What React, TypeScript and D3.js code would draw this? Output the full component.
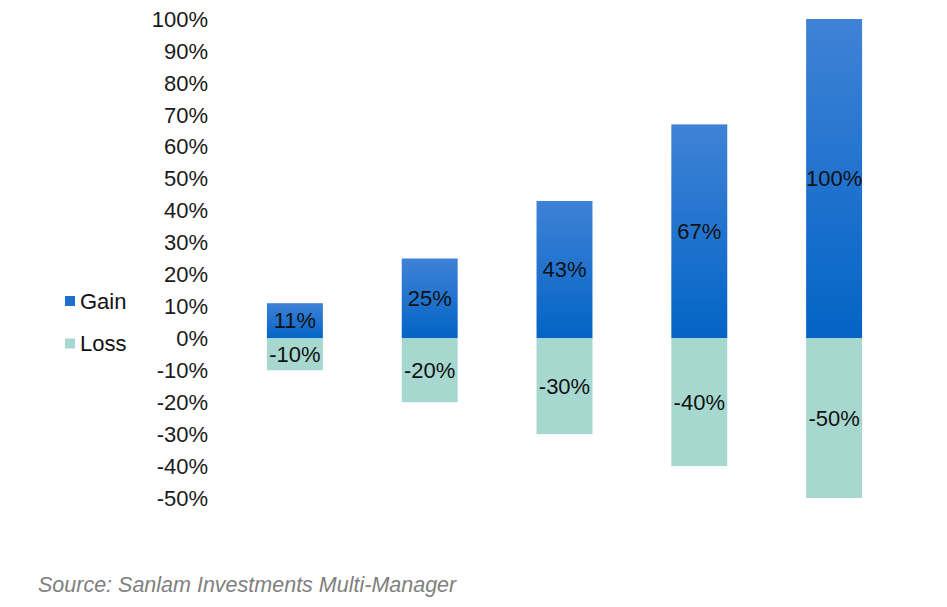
import React from "react";
import * as d3 from "d3";

const categories = ["A", "B", "C", "D", "E"];
const gainValues = [11, 25, 43, 67, 100];
const lossValues = [-10, -20, -30, -40, -50];
const tickValues = [100, 90, 80, 70, 60, 50, 40, 30, 20, 10, 0, -10, -20, -30, -40, -50];
const legendItems = [
  { key: "Gain", color: "#1f6fcf" },
  { key: "Loss", color: "#a6d8d0" },
];
const sourceText = "Source: Sanlam Investments Multi-Manager";

const W = 947;
const H = 607;
const FONT = "'Liberation Sans', Arial, sans-serif";

export default function App() {
  const y = d3.scaleLinear().domain([-50, 100]).range([498, 19]);
  const x = d3
    .scaleBand<string>()
    .domain(categories)
    .range([227.5, 901.5])
    .paddingInner(0.585)
    .paddingOuter(0.2925);
  const bw = x.bandwidth();

  return (
    <svg
      width={W}
      height={H}
      style={{ position: "absolute", left: 0, top: 0, background: "#fff" }}
    >
      <defs>
        <linearGradient id="gainGrad" x1="0" y1="0" x2="0" y2="1">
          <stop offset="0%" stopColor="#3f82d6" />
          <stop offset="100%" stopColor="#0364c6" />
        </linearGradient>
      </defs>
      <rect x={0} y={0} width={W} height={H} fill="#fff" />

      {/* y axis tick labels */}
      {tickValues.map((t) => (
        <text
          key={t}
          x={208}
          y={y(t)}
          dy="0.35em"
          textAnchor="end"
          fontFamily={FONT}
          fontSize={22}
          fill="#1a1a1a"
        >
          {`${t}%`}
        </text>
      ))}

      {/* bars */}
      {categories.map((c, i) => {
        const x0 = x(c) as number;
        const g = gainValues[i];
        const l = lossValues[i];
        return (
          <g key={c}>
            <rect
              x={x0}
              y={y(g)}
              width={bw}
              height={y(0) - y(g)}
              fill="url(#gainGrad)"
            />
            <rect
              x={x0}
              y={y(0)}
              width={bw}
              height={y(l) - y(0)}
              fill="#a6d8d0"
            />
            <text
              x={x0 + bw / 2}
              y={(y(g) + y(0)) / 2}
              dy="0.35em"
              textAnchor="middle"
              fontFamily={FONT}
              fontSize={22}
              fill="#111"
            >
              {`${g}%`}
            </text>
            <text
              x={x0 + bw / 2}
              y={(y(l) + y(0)) / 2}
              dy="0.35em"
              textAnchor="middle"
              fontFamily={FONT}
              fontSize={22}
              fill="#111"
            >
              {`${l}%`}
            </text>
          </g>
        );
      })}

      {/* legend */}
      {legendItems.map((d, i) => (
        <g key={d.key} transform={`translate(65, ${301 + i * 42.5})`}>
          <rect x={0} y={-5} width={10} height={10} fill={d.color} />
          <text
            x={15}
            y={0}
            dy="0.35em"
            fontFamily={FONT}
            fontSize={22}
            fill="#111"
          >
            {d.key}
          </text>
        </g>
      ))}

      {/* source */}
      <text
        x={38}
        y={592}
        fontFamily={FONT}
        fontSize={21.5}
        fontStyle="italic"
        fill="#808080"
      >
        {sourceText}
      </text>
    </svg>
  );
}
